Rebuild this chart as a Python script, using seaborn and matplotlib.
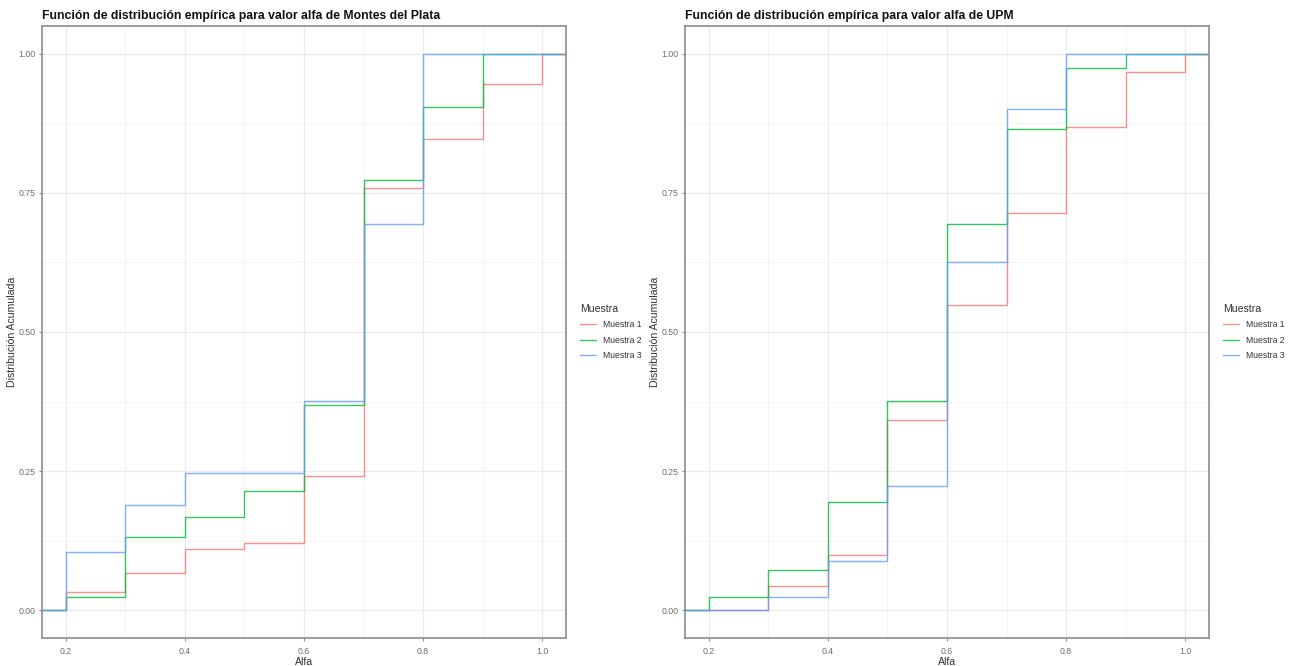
import numpy as np
import pandas as pd
import matplotlib
matplotlib.use("Agg")
import matplotlib.pyplot as plt
from matplotlib.ticker import MultipleLocator
import seaborn as sns

# ---- data (cumulative proportion at each alfa level) ----
alfa = [0.2, 0.3, 0.4, 0.5, 0.6, 0.7, 0.8, 0.9, 1.0]
muestras = ["Muestra 1", "Muestra 2", "Muestra 3"]

mdp_m1 = [0.033, 0.066, 0.110, 0.121, 0.242, 0.758, 0.846, 0.945, 1.0]
mdp_m2 = [0.024, 0.131, 0.167, 0.214, 0.369, 0.774, 0.905, 1.0, 1.0]
mdp_m3 = [0.105, 0.189, 0.247, 0.247, 0.376, 0.694, 1.0, 1.0, 1.0]

upm_m1 = [0.0, 0.044, 0.099, 0.341, 0.549, 0.714, 0.868, 0.967, 1.0]
upm_m2 = [0.024, 0.073, 0.194, 0.376, 0.694, 0.865, 0.975, 1.0, 1.0]
upm_m3 = [0.0, 0.024, 0.088, 0.224, 0.625, 0.900, 1.0, 1.0, 1.0]

titles = ["Función de distribución empírica para valor alfa de Montes del Plata",
          "Función de distribución empírica para valor alfa de UPM"]
xlabel = "Alfa"
ylabel = "Distribución Acumulada"
legend_title = "Muestra"
palette = ["#F8766D", "#00BA38", "#619CFF"]


def long_frame(series):
    lo = min(alfa) - 0.2   # tails of the ECDF (outside the visible range)
    hi = max(alfa) + 0.2
    rows = []
    for name, vals in zip(muestras, series):
        rows.append((lo, 0.0, name))
        for a, v in zip(alfa, vals):
            rows.append((a, v, name))
        rows.append((hi, 1.0, name))
    return pd.DataFrame(rows, columns=["Alfa", "F", "Muestra"])


sns.set_theme(style="white")
plt.rcParams["font.family"] = ["Liberation Sans", "DejaVu Sans"]

fig = plt.figure(figsize=(12.91, 6.66), dpi=100)
W, H = 1291, 666
axes = [fig.add_axes([42 / W, 28 / H, 524 / W, 612 / H]),
        fig.add_axes([685 / W, 28 / H, 524 / W, 612 / H])]

data_sets = [[mdp_m1, mdp_m2, mdp_m3], [upm_m1, upm_m2, upm_m3]]

span = max(alfa) - min(alfa)
for ax, series, title in zip(axes, data_sets, titles):
    df = long_frame(series)
    sns.lineplot(data=df, x="Alfa", y="F", hue="Muestra", hue_order=muestras,
                 palette=palette, drawstyle="steps-post", errorbar=None,
                 linewidth=1.0, alpha=0.8, ax=ax)
    ax.set_xlim(min(alfa) - 0.05 * span, max(alfa) + 0.05 * span)
    ax.set_ylim(-0.05, 1.05)
    ax.xaxis.set_major_locator(MultipleLocator(0.2))
    ax.xaxis.set_minor_locator(MultipleLocator(0.1))
    ax.yaxis.set_major_locator(MultipleLocator(0.25))
    ax.yaxis.set_minor_locator(MultipleLocator(0.125))
    ax.set_xticks([0.2, 0.4, 0.6, 0.8, 1.0])
    ax.set_xticklabels(["0.2", "0.4", "0.6", "0.8", "1.0"])
    ax.set_yticks([0.0, 0.25, 0.5, 0.75, 1.0])
    ax.set_yticklabels(["0.00", "0.25", "0.50", "0.75", "1.00"])
    ax.grid(True, which="major", color="#ebebeb", linewidth=0.9)
    ax.grid(True, which="minor", color="#f2f2f2", linewidth=0.6)
    ax.set_axisbelow(True)
    for s in ax.spines.values():
        s.set_color("#8c8c8c")
        s.set_linewidth(1.2)
    ax.tick_params(axis="both", which="major", length=2.5, width=0.8,
                   color="#8c8c8c", labelsize=6.3, labelcolor="#6e6e6e",
                   bottom=True, left=True)
    ax.tick_params(axis="x", which="major", pad=4)
    ax.tick_params(axis="y", which="major", pad=2)
    ax.tick_params(axis="both", which="minor", length=0)
    ax.set_xlabel(xlabel, fontsize=7.6, color="#333333", labelpad=1)
    ax.set_ylabel(ylabel, fontsize=7.6, color="#333333", labelpad=1)
    ax.set_title(title, loc="left", fontsize=8.8, fontweight="bold",
                 color="#111111", pad=5)
    handles, labels = ax.get_legend_handles_labels()
    leg = ax.legend(handles, labels, title=legend_title, loc="center left",
                    bbox_to_anchor=(1.02, 0.5), frameon=False, fontsize=6.2,
                    title_fontsize=7.6, handlelength=1.9, handletextpad=0.8,
                    labelspacing=0.75, borderaxespad=0)
    leg._legend_box.align = "left"
    for t in leg.get_texts():
        t.set_color("#333333")
    leg.get_title().set_color("#333333")

fig.savefig("out.png", dpi=100, facecolor="white")
